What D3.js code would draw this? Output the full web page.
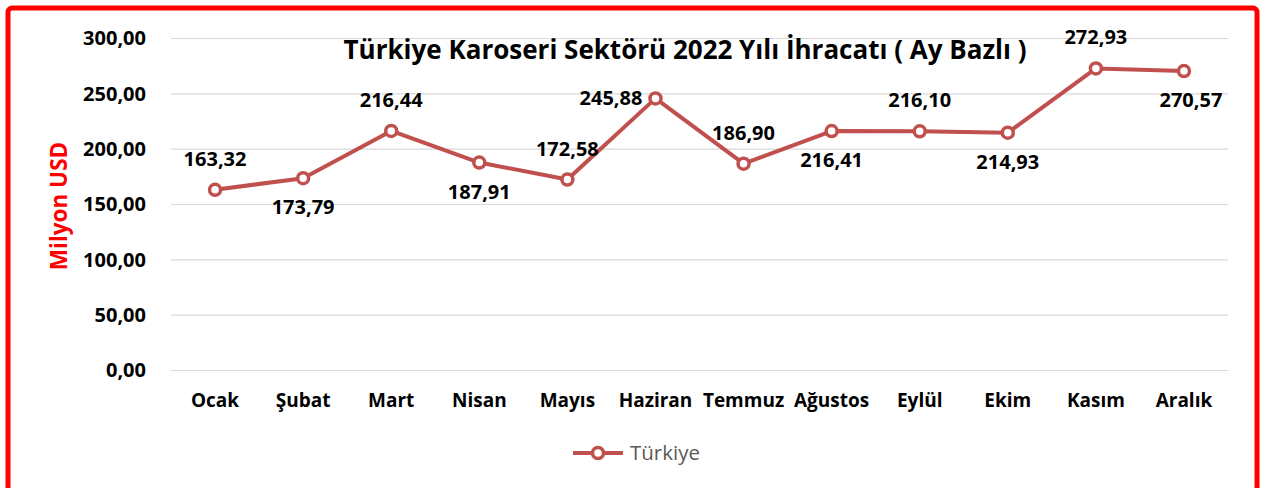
<!DOCTYPE html>
<html>
<head>
<meta charset="utf-8">
<script src="https://cdn.jsdelivr.net/npm/d3@7"></script>
<style>
  body { margin: 0; background: #fff; }
  svg { font-family: "Open Sans", Lato, sans-serif; }
</style>
</head>
<body>
<div id="chart-area"></div>
<script>
// months and export values (million USD)
const months = ["Ocak", "Şubat", "Mart", "Nisan", "Mayıs", "Haziran", "Temmuz", "Ağustos", "Eylül", "Ekim", "Kasım", "Aralık"];
const values = [163.32, 173.79, 216.44, 187.91, 172.58, 245.88, 186.90, 216.41, 216.10, 214.93, 272.93, 270.57];
const labelPos = ["above", "below", "above", "below", "above", "left", "above", "below", "above", "below", "above", "below"];
const yTicks = [0, 50, 100, 150, 200, 250, 300];

const width = 1265, height = 488;
const fmt = v => d3.format(".2f")(v).replace(".", ",");
const color = "#C0504D";
const font = "'Open Sans', Lato, sans-serif";

const svg = d3.select("#chart-area").append("svg")
    .attr("width", width)
    .attr("height", height);

// red frame
svg.append("rect")
    .attr("x", 8).attr("y", 8)
    .attr("width", 1249).attr("height", 500)
    .attr("rx", 4)
    .attr("fill", "none")
    .attr("stroke", "#FF0000")
    .attr("stroke-width", 5);

const x = d3.scaleBand()
    .domain(months)
    .range([171, 1228]);

const y = d3.scaleLinear()
    .domain([0, 300])
    .range([370.5, 38.5]);

// gridlines
svg.append("g")
    .selectAll("line")
    .data(yTicks)
    .enter().append("line")
    .attr("x1", 171).attr("x2", 1228)
    .attr("y1", d => y(d)).attr("y2", d => y(d))
    .attr("stroke", "#D9D9D9")
    .attr("stroke-width", 1.2);

// y axis labels
const yAxis = svg.append("g")
    .attr("transform", "translate(149,0)")
    .call(d3.axisLeft(y).tickValues(yTicks).tickFormat(fmt).tickSize(0));
yAxis.select(".domain").remove();
yAxis.selectAll("text")
    .attr("font-family", font)
    .attr("font-size", 20)
    .attr("font-weight", "bold")
    .attr("fill", "#000");

// x axis labels
const xAxis = svg.append("g")
    .attr("transform", "translate(0,390)")
    .call(d3.axisBottom(x).tickSize(0));
xAxis.select(".domain").remove();
xAxis.selectAll("text")
    .attr("font-family", font)
    .attr("font-size", 19)
    .attr("font-weight", "bold")
    .attr("fill", "#000");

// axis title
svg.append("text")
    .attr("transform", "translate(67,206) rotate(-90)")
    .attr("text-anchor", "middle")
    .attr("font-size", 22.5)
    .attr("font-weight", "bold")
    .attr("fill", "#FF0000")
    .text("Milyon USD");

// chart title
svg.append("text")
    .attr("x", 685).attr("y", 59)
    .attr("text-anchor", "middle")
    .attr("font-size", 26)
    .attr("font-weight", "bold")
    .attr("fill", "#000")
    .text("Türkiye Karoseri Sektörü 2022 Yılı İhracatı ( Ay Bazlı )");

const cx = (d, i) => x(months[i]) + x.bandwidth() / 2;

const line = d3.line()
    .x(cx)
    .y(d => y(d));

svg.append("path")
    .datum(values)
    .attr("d", line)
    .attr("fill", "none")
    .attr("stroke", color)
    .attr("stroke-width", 4)
    .attr("stroke-linejoin", "round");

svg.selectAll("circle.pt")
    .data(values)
    .enter().append("circle")
    .attr("class", "pt")
    .attr("cx", cx)
    .attr("cy", d => y(d))
    .attr("r", 5.5)
    .attr("fill", "#fff")
    .attr("stroke", color)
    .attr("stroke-width", 3.5);

// data labels
svg.selectAll("text.lbl")
    .data(values)
    .enter().append("text")
    .attr("class", "lbl")
    .attr("x", (d, i) => labelPos[i] === "left" ? cx(d, i) - 13 : cx(d, i) + (i === 11 ? 7 : 0))
    .attr("y", (d, i) => {
        const p = labelPos[i];
        if (p === "above") return y(d) - 24;
        if (p === "below") return y(d) + 36;
        return y(d) + 7;
    })
    .attr("text-anchor", (d, i) => labelPos[i] === "left" ? "end" : "middle")
    .attr("font-size", 20)
    .attr("font-weight", "bold")
    .attr("fill", "#000")
    .text(fmt);

// legend
const lg = svg.append("g").attr("transform", "translate(573,453)");
lg.append("line")
    .attr("x1", 0).attr("x2", 50)
    .attr("stroke", color).attr("stroke-width", 4);
lg.append("circle")
    .attr("cx", 25).attr("r", 5.5)
    .attr("fill", "#fff").attr("stroke", color).attr("stroke-width", 3.5);
lg.append("text")
    .attr("x", 57).attr("y", 7)
    .attr("font-size", 20.5)
    .attr("fill", "#595959")
    .text("Türkiye");
</script>
</body>
</html>
